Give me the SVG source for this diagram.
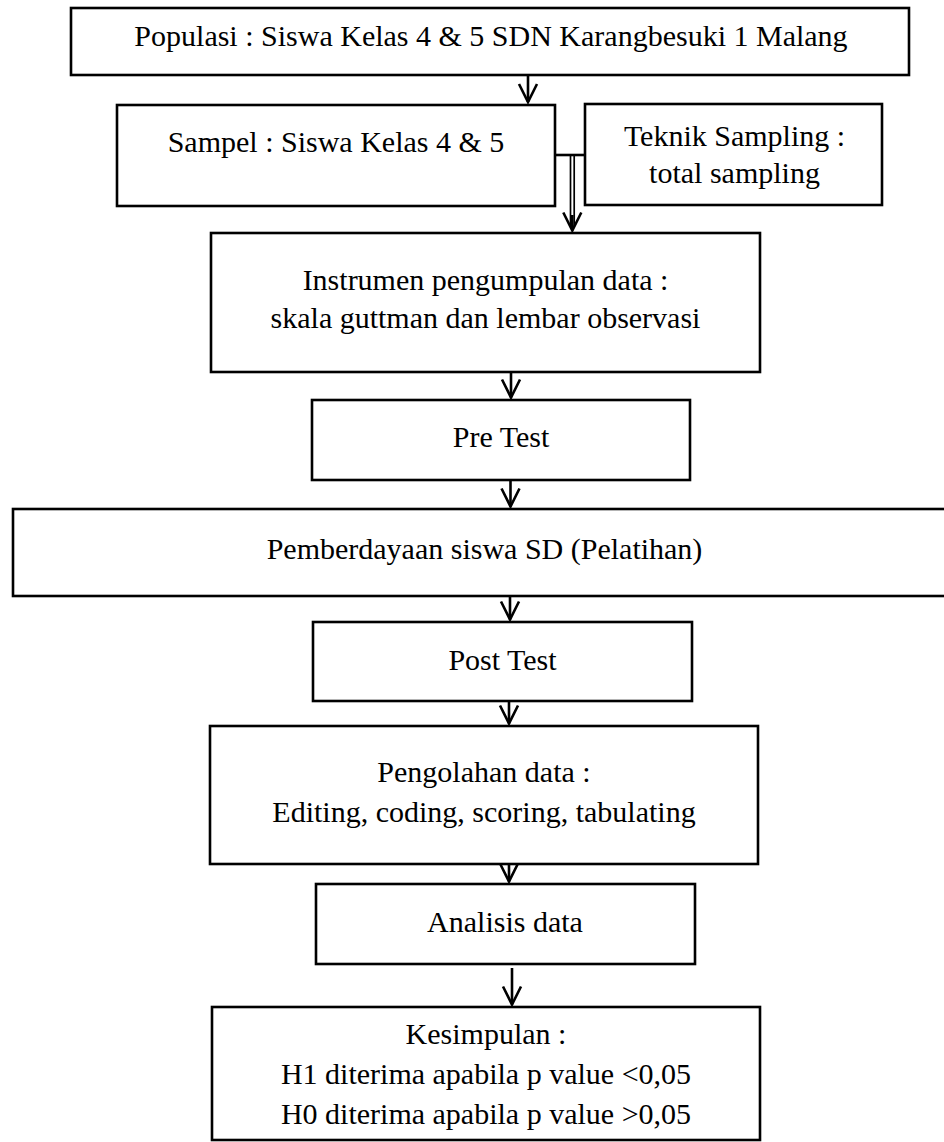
<svg xmlns="http://www.w3.org/2000/svg" width="944" height="1142" viewBox="0 0 944 1142">
<defs>
<style>
.box{fill:#fff;stroke:#000;stroke-width:2.6}
.t{font-family:"Liberation Serif","Times New Roman",serif;font-size:30px;fill:#000;text-anchor:middle}
.c{stroke:#000;stroke-width:2.6;fill:none}
.c2{stroke:#000;stroke-width:1.7;fill:none}
</style>
<marker id="ah" markerUnits="userSpaceOnUse" markerWidth="1" markerHeight="1" orient="auto" overflow="visible" refX="0" refY="0">
<path d="M-18,-9 L0,0 L-18,9" fill="none" stroke="#000" stroke-width="2.6" stroke-linejoin="miter"/>
</marker>
</defs>
<rect width="944" height="1142" fill="#fff"/>
<g id="connectors">
<line class="c" x1="528" y1="75" x2="528" y2="102" marker-end="url(#ah)"/>
<line class="c" x1="555" y1="155" x2="585" y2="155" stroke-width="3"/>
<line class="c2" x1="570.5" y1="155" x2="570.5" y2="226"/>
<line class="c2" x1="574.2" y1="155" x2="574.2" y2="226"/>
<line class="c" x1="572.3" y1="215" x2="572.3" y2="230.5" marker-end="url(#ah)"/>
<line class="c" x1="511" y1="372" x2="511" y2="397.5" marker-end="url(#ah)"/>
<line class="c" x1="510.5" y1="480" x2="510.5" y2="506.5" marker-end="url(#ah)"/>
<line class="c" x1="510" y1="596" x2="510" y2="619.5" marker-end="url(#ah)"/>
<line class="c" x1="509" y1="701" x2="509" y2="723.5" marker-end="url(#ah)"/>
<line class="c" x1="509" y1="862" x2="509" y2="881.5" marker-end="url(#ah)"/>
<line class="c" x1="512" y1="968" x2="512" y2="1004.5" marker-end="url(#ah)"/>
</g>
<g id="populasi">
<rect class="box" x="71" y="8" width="838" height="67"/>
<text class="t" x="491" y="46">Populasi : Siswa Kelas 4 &amp; 5 SDN Karangbesuki 1 Malang</text>
</g>
<g id="sampel">
<rect class="box" x="117" y="105" width="438" height="101"/>
<text class="t" x="336" y="152">Sampel : Siswa Kelas 4 &amp; 5</text>
</g>
<g id="teknik">
<rect class="box" x="585" y="104" width="297" height="101"/>
<text class="t" x="734.5" y="146">Teknik Sampling :</text>
<text class="t" x="734.5" y="183">total sampling</text>
</g>
<g id="instrumen">
<rect class="box" x="211" y="233" width="549" height="139"/>
<text class="t" x="485.5" y="290">Instrumen pengumpulan data :</text>
<text class="t" x="485.5" y="328">skala guttman dan lembar observasi</text>
</g>
<g id="pretest">
<rect class="box" x="312" y="400" width="378" height="80"/>
<text class="t" x="501" y="447">Pre Test</text>
</g>
<g id="pemberdayaan">
<rect class="box" x="13" y="509" width="943" height="87"/>
<text class="t" x="484.5" y="559">Pemberdayaan siswa SD (Pelatihan)</text>
</g>
<g id="posttest">
<rect class="box" x="313" y="622" width="379" height="79"/>
<text class="t" x="502.5" y="670">Post Test</text>
</g>
<g id="pengolahan">
<rect class="box" x="210" y="726" width="548" height="138"/>
<text class="t" x="484" y="782">Pengolahan data :</text>
<text class="t" x="484" y="822">Editing, coding, scoring, tabulating</text>
</g>
<g id="analisis">
<rect class="box" x="316" y="884" width="379" height="80"/>
<text class="t" x="505" y="932">Analisis data</text>
</g>
<g id="kesimpulan">
<rect class="box" x="212" y="1007" width="548" height="133"/>
<text class="t" x="486" y="1044">Kesimpulan :</text>
<text class="t" x="486" y="1084">H1 diterima apabila p value &lt;0,05</text>
<text class="t" x="486" y="1124">H0 diterima apabila p value &gt;0,05</text>
</g>
</svg>
